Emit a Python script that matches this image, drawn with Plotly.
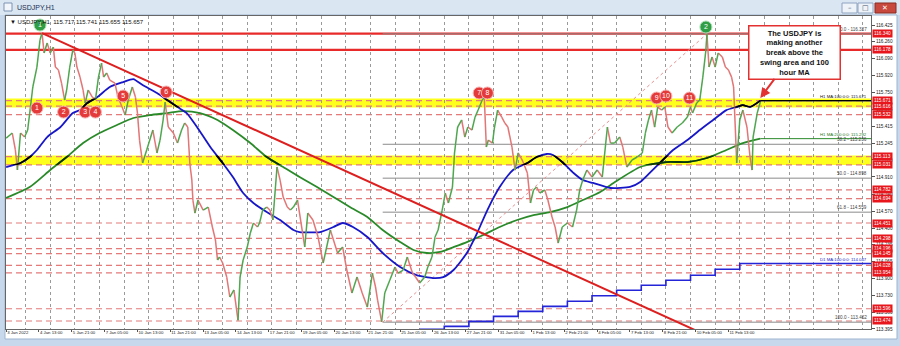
import plotly.graph_objects as go

# ---------------- data (x = hourly bar index from 3 Jan 2022 00:00, trading hours only) ----------------
price_bar = [5, 11, 14, 16, 19, 23, 26, 28, 31, 35,
             38, 40, 42, 45, 48, 51, 53, 56, 59, 62,
             64, 67, 70, 72, 74, 77, 80, 82, 85, 89,
             92, 95, 98, 100, 103, 106, 111, 114, 118, 121,
             124, 128, 131, 133, 135, 138, 142, 148, 152, 155,
             158, 160, 163, 168, 172, 176, 179, 182, 184, 186,
             187, 189, 192, 197, 202, 206, 209, 211, 213, 216,
             220, 223, 227, 231, 233, 236, 240, 243, 246, 250,
             252, 255, 259, 262, 265, 269, 272, 275, 279, 282,
             285, 289, 296, 299, 304, 309, 314, 321, 324, 328,
             333, 337, 342, 347, 352, 357, 362, 365, 367, 371,
             374, 379, 384, 387, 392, 396, 401, 404, 408, 413,
             416, 420, 423, 426, 430, 433, 436, 440, 442, 445,
             449, 452, 455, 459, 462, 465, 469, 471, 473, 475,
             479, 481, 484, 488, 491, 494, 498, 501, 504, 508,
             513, 516, 519, 522, 525, 530, 533, 537, 540, 543,
             547, 552, 557, 561, 564, 567, 571, 576, 581, 586,
             591, 594, 598, 603, 606, 610, 615, 620, 625, 628,
             631, 634, 637, 640, 644, 647, 650, 654, 659, 664,
             669, 672, 674, 678, 681, 684, 687, 688, 690, 693,
             696, 699, 703, 706, 709, 712, 714, 716, 717, 720,
             723, 727, 730, 732, 733, 737, 740]
price_close = [115.298, 115.348, 115.179, 114.979, 115.348, 115.308, 115.378, 115.547, 115.807, 116.006,
               116.275, 116.345, 116.146, 116.245, 116.146, 116.205, 116.006, 115.976, 115.846, 115.677,
               115.777, 116.006, 116.176, 116.146, 116.006, 115.906, 115.777, 115.647, 115.777, 115.707,
               115.677, 115.906, 116.046, 115.906, 115.946, 115.876, 115.846, 115.707, 115.607, 115.527,
               115.677, 115.807, 115.707, 115.547, 115.278, 115.049, 115.179, 115.378, 115.149, 115.278,
               115.478, 115.657, 115.408, 115.348, 115.248, 115.378, 115.448, 115.408, 115.049, 114.879,
               114.680, 114.550, 114.680, 114.580, 114.610, 114.411, 114.281, 114.082, 114.112, 114.052,
               113.912, 113.713, 113.783, 113.480, 113.912, 114.082, 114.211, 114.351, 114.451, 114.411,
               114.451, 114.580, 114.610, 114.580, 114.481, 115.009, 114.879, 114.710, 114.610, 114.580,
               114.610, 114.680, 114.212, 114.550, 114.481, 114.311, 114.052, 114.381, 114.281, 114.152,
               114.211, 113.982, 113.753, 113.912, 113.753, 113.613, 113.952, 113.813, 113.683, 113.465,
               113.753, 113.882, 114.012, 113.952, 113.982, 114.112, 113.952, 113.912, 113.853, 113.912,
               114.012, 114.112, 114.311, 114.381, 114.580, 114.750, 114.650, 114.810, 115.149, 115.408,
               115.478, 115.308, 115.408, 115.378, 115.507, 115.577, 115.677, 115.707, 115.208, 115.278,
               115.248, 115.408, 115.577, 115.507, 115.448, 115.408, 115.208, 114.979, 115.149, 115.079,
               114.949, 114.650, 114.780, 114.810, 114.750, 114.780, 114.680, 114.511, 114.411, 114.251,
               114.411, 114.451, 114.411, 114.580, 114.780, 114.879, 114.979, 114.909, 114.979, 114.909,
               115.408, 115.248, 115.248, 115.308, 115.208, 115.009, 115.079, 115.109, 115.149, 115.348,
               115.478, 115.577, 115.408, 115.607, 115.577, 115.607, 115.408, 115.348, 115.408, 115.448,
               115.507, 115.607, 115.547, 115.647, 115.677, 115.906, 116.176, 116.337, 116.006, 116.106,
               116.006, 116.146, 116.106, 116.006, 115.976, 115.906, 115.807, 115.308, 115.049, 115.478,
               115.577, 115.408, 115.109, 114.979, 115.308, 115.547, 115.657]

ma100_bar = [5, 19, 28, 35, 45, 58, 70, 77, 84, 94,
             106, 119, 129, 138, 152, 162, 172, 181, 191, 204,
             216, 226, 236, 246, 259, 272, 285, 291, 311, 324,
             333, 343, 357, 372, 389, 405, 421, 431, 441, 454,
             464, 474, 486, 499, 513, 522, 532, 538, 548, 558,
             567, 577, 594, 613, 623, 635, 645, 655, 669, 681,
             694, 707, 717, 723, 730, 740]
ma100_val = [115.009, 115.049, 115.109, 115.179, 115.308, 115.408, 115.547, 115.577, 115.647, 115.707,
             115.807, 115.856, 115.886, 115.826, 115.747, 115.677, 115.607, 115.547, 115.408, 115.208,
             115.049, 114.909, 114.750, 114.650, 114.560, 114.481, 114.381, 114.361, 114.361, 114.411,
             114.451, 114.411, 114.311, 114.152, 114.012, 113.932, 113.902, 113.912, 113.982, 114.152,
             114.351, 114.580, 114.809, 114.979, 115.049, 115.109, 115.139, 115.129, 115.049, 114.949,
             114.879, 114.850, 114.800, 114.810, 114.860, 114.979, 115.079, 115.179, 115.278, 115.378,
             115.478, 115.577, 115.607, 115.627, 115.607, 115.671]

ma200_bar = [5, 28, 48, 64, 80, 96, 113, 129, 145, 162,
             177, 194, 211, 226, 243, 259, 275, 291, 308, 324,
             340, 357, 372, 389, 402, 415, 428, 441, 454, 470,
             486, 503, 519, 535, 552, 567, 584, 597, 623, 649,
             669, 688, 707, 723, 740]
ma200_val = [114.700, 114.809, 114.979, 115.109, 115.248, 115.348, 115.428, 115.498, 115.527, 115.547,
             115.567, 115.547, 115.478, 115.378, 115.248, 115.109, 115.009, 114.909, 114.809, 114.710,
             114.610, 114.511, 114.381, 114.261, 114.182, 114.152, 114.162, 114.211, 114.261, 114.331,
             114.411, 114.481, 114.530, 114.560, 114.610, 114.680, 114.760, 114.850, 115.009, 115.059,
             115.059, 115.099, 115.179, 115.248, 115.292]

d1ma_bar = [408, 432, 456, 480, 504, 528, 552, 576, 600, 624, 648, 672, 696, 720]
d1ma_val = [113.39, 113.42, 113.47, 113.52, 113.57, 113.62, 113.67, 113.725, 113.78, 113.83,
            113.88, 113.93, 113.99, 114.047]

last_bar = 740
ma100_last = 115.671
ma200_last = 115.292
d1ma_last = 114.047

solid_levels = [116.340, 116.178]
dashed_levels = [115.671, 115.616, 115.532, 115.113, 115.031, 114.782, 114.694, 114.451,
                 114.298, 114.196, 114.145, 114.028, 113.954, 113.596, 113.474]
tag_levels = [116.340, 116.178, 115.671, 115.616, 115.532, 115.113, 115.031, 114.782, 114.694,
              114.451, 114.298, 114.196, 114.145, 114.028, 113.954, 113.596, 113.474]

zone_low = [115.602, 115.029]
zone_high = [115.692, 115.124]

fib_pct = ["0.0", "38.2", "50.0", "61.8", "100.0"]
fib_price = [116.337, 115.236, 114.898, 114.559, 113.462]
fib_anchor_bar = [372, 688]
fib_anchor_price = [113.462, 116.337]

trend_bar = [40, 678]
trend_price = [116.345, 113.376]

touch_bar = [35, 61, 82, 92, 119, 161, 466, 474, 639, 648, 671]
touch_price = [115.597, 115.557, 115.557, 115.557, 115.717, 115.757, 115.747, 115.747, 115.697, 115.717, 115.697]
touch_label = ["1", "2", "3", "4", "5", "6", "7", "8", "9", "10", "11"]

peak_bar = [38, 687]
peak_price = [116.425, 116.405]
peak_label = ["1", "2"]

xtick_bar = [5, 37, 69, 101, 133, 165, 197, 229, 261, 293, 325, 357, 389, 421, 453, 485,
             517, 549, 581, 613, 645, 677, 709]
xtick_text = ["3 Jan 2022", "4 Jan 13:00", "5 Jan 21:00", "7 Jan 05:00", "10 Jan 13:00",
              "11 Jan 21:00", "13 Jan 05:00", "14 Jan 13:00", "17 Jan 21:00", "19 Jan 05:00",
              "20 Jan 13:00", "21 Jan 21:00", "25 Jan 05:00", "26 Jan 13:00", "27 Jan 21:00",
              "31 Jan 05:00", "1 Feb 13:00", "2 Feb 21:00", "4 Feb 05:00", "7 Feb 13:00",
              "8 Feb 21:00", "10 Feb 05:00", "11 Feb 13:00"]
day_start_bar = list(range(24, 841, 24))
ytick_vals = [116.425, 116.260, 116.090, 115.920, 115.750, 115.585, 115.415, 115.245, 115.080,
              114.910, 114.740, 114.570, 114.400, 114.235, 114.065, 113.900, 113.730, 113.560, 113.395]

header_text = "\u25bc USDJPY,H1  115.717 115.741 115.655 115.657"
callout_text = ("<b>The USDJPY is<br>making another<br>break above the<br>"
                "swing area and 100<br>hour MA</b>")
callout_tip = (740, 115.697)

# ---------------- layout geometry ----------------
W, H = 900, 346
ML, MR, MT, MB = 6, 29, 16, 17
PW, PH = W - ML - MR, H - MT - MB
X_MIN, X_MAX = 4.87, 847.9
Y_MIN, Y_MAX = 113.394, 116.515
FONT = "Liberation Sans"
SMALL = 4.3


def fx(px):
    return (px - ML) / PW


def fy(py):
    return (H - MB - py) / PH


def yfrac(v):
    return (v - Y_MIN) / (Y_MAX - Y_MIN)


RED_LINE = "#e82a2a"
DASH_RED = "#e47a7a"
BLUE = "#1717c8"
GREEN = "#2a8a2a"

fig = go.Figure()

# D1 MA step line
fig.add_trace(go.Scatter(x=d1ma_bar + [last_bar, X_MAX], y=d1ma_val + [d1ma_last, d1ma_last],
                         mode="lines", line=dict(color="#2424d8", width=1.6, shape="hv"),
                         hoverinfo="skip"))

# fib diagonal
fig.add_trace(go.Scatter(x=fib_anchor_bar, y=fib_anchor_price, mode="lines",
                         line=dict(color="#e89090", width=1, dash="dot"), hoverinfo="skip"))

# moving averages
fig.add_trace(go.Scatter(x=ma200_bar, y=ma200_val, mode="lines",
                         line=dict(color=GREEN, width=1.8, shape="spline", smoothing=0.6), hoverinfo="skip"))
fig.add_trace(go.Scatter(x=ma100_bar, y=ma100_val, mode="lines",
                         line=dict(color=BLUE, width=1.8, shape="spline", smoothing=0.6), hoverinfo="skip"))
fig.add_trace(go.Scatter(x=[last_bar, X_MAX], y=[ma200_last, ma200_last], mode="lines",
                         line=dict(color=GREEN, width=1), hoverinfo="skip"))
fig.add_trace(go.Scatter(x=[last_bar, X_MAX], y=[ma100_last, ma100_last], mode="lines",
                         line=dict(color=BLUE, width=1.2), hoverinfo="skip"))

# price path, coloured by direction
up_x, up_y, dn_x, dn_y = [], [], [], []
for i in range(1, len(price_bar)):
    sx = [price_bar[i - 1], price_bar[i], None]
    sy = [price_close[i - 1], price_close[i], None]
    if price_close[i] >= price_close[i - 1]:
        up_x += sx
        up_y += sy
    else:
        dn_x += sx
        dn_y += sy
fig.add_trace(go.Scatter(x=dn_x, y=dn_y, mode="lines", line=dict(color="#e27676", width=1.5),
                         hoverinfo="skip"))
fig.add_trace(go.Scatter(x=up_x, y=up_y, mode="lines", line=dict(color="#4fa64f", width=1.5),
                         hoverinfo="skip"))

# trend line
fig.add_trace(go.Scatter(x=trend_bar, y=trend_price, mode="lines",
                         line=dict(color="#dd1f1f", width=2), hoverinfo="skip"))

# darkened MA segments inside the yellow zones (zone sub-plots clip them)
for k, yname in enumerate(["y3", "y4"]):
    fig.add_trace(go.Scatter(x=ma100_bar, y=ma100_val, xaxis="x2", yaxis=yname, mode="lines",
                             line=dict(color="#000000", width=1.8, shape="spline", smoothing=0.6),
                             hoverinfo="skip"))
    fig.add_trace(go.Scatter(x=ma200_bar, y=ma200_val, xaxis="x2", yaxis=yname, mode="lines",
                             line=dict(color="#0c360c", width=1.8, shape="spline", smoothing=0.6),
                             hoverinfo="skip"))
    fig.add_trace(go.Scatter(x=[last_bar, X_MAX], y=[ma100_last, ma100_last], xaxis="x2", yaxis=yname,
                             mode="lines", line=dict(color="#000000", width=1.2), hoverinfo="skip"))

# touch markers
fig.add_trace(go.Scatter(x=touch_bar, y=touch_price, mode="markers+text", text=touch_label,
                         textposition="middle center",
                         textfont=dict(color="white", size=7, family=FONT),
                         marker=dict(size=12, color="#e53a3a", line=dict(color="#f6b0b0", width=1)),
                         cliponaxis=False, hoverinfo="skip"))
fig.add_trace(go.Scatter(x=peak_bar, y=peak_price, mode="markers+text", text=peak_label,
                         textposition="middle center",
                         textfont=dict(color="white", size=7, family=FONT),
                         marker=dict(size=12, color="#2f9e44", line=dict(color="#a8dcb0", width=1)),
                         cliponaxis=False, hoverinfo="skip"))

shapes = []
# window frame
shapes.append(dict(type="rect", xref="paper", yref="paper", x0=fx(0), x1=fx(900), y0=fy(15), y1=fy(0),
                   fillcolor="#dbe6f3", line=dict(width=0), layer="below"))
shapes.append(dict(type="rect", xref="paper", yref="paper", x0=fx(5), x1=fx(897), y0=fy(339), y1=fy(15),
                   fillcolor="white", line=dict(color="#9fb4d0", width=1), layer="below"))
shapes.append(dict(type="rect", xref="paper", yref="paper", x0=fx(4), x1=fx(12), y0=fy(11), y1=fy(3),
                   fillcolor="#f2f6fb", line=dict(color="#7d93b3", width=1), layer="below"))
for bx0, bx1, fill, lc in [(842, 857, "#eef3f9", "#8ea3c0"), (858, 873, "#eef3f9", "#8ea3c0"),
                           (875, 896, "#c9483d", "#8b2a22")]:
    shapes.append(dict(type="rect", xref="paper", yref="paper", x0=fx(bx0), x1=fx(bx1), y0=fy(13),
                       y1=fy(3), fillcolor=fill, line=dict(color=lc, width=1), layer="below"))

# yellow swing zones
for lo, hi in zip(zone_low, zone_high):
    shapes.append(dict(type="rect", xref="paper", yref="y", x0=0, x1=1, y0=lo, y1=hi,
                       fillcolor="#ffff1e", line=dict(width=0), layer="below"))
# dashed support/resistance lines
for v in dashed_levels:
    shapes.append(dict(type="line", xref="paper", yref="y", x0=0, x1=1, y0=v, y1=v,
                       line=dict(color=DASH_RED, width=1.2, dash="6px,4px"), layer="below"))
# fib levels
for v in fib_price:
    shapes.append(dict(type="line", xref="x", yref="y", x0=fib_anchor_bar[0], x1=X_MAX, y0=v, y1=v,
                       line=dict(color="#8a8a8a", width=1), layer="below"))
# solid red levels
for v in solid_levels:
    shapes.append(dict(type="line", xref="paper", yref="y", x0=0, x1=1, y0=v, y1=v,
                       line=dict(color=RED_LINE, width=2.2), layer="below"))

annotations = []
# title bar texts
annotations.append(dict(xref="paper", yref="paper", x=fx(15), y=fy(7.5), text="USDJPY,H1",
                        showarrow=False, xanchor="left", yanchor="middle",
                        font=dict(size=7, color="#1a3050", family=FONT)))
for gx, glyph, col in [(849.5, "\u2013", "#44546c"), (865.5, "\u25a1", "#44546c"), (885.5, "\u2715", "white")]:
    annotations.append(dict(xref="paper", yref="paper", x=fx(gx), y=fy(8), text=glyph, showarrow=False,
                            xanchor="center", yanchor="middle", font=dict(size=7, color=col, family="DejaVu Sans")))
annotations.append(dict(xref="paper", yref="paper", x=fx(8), y=fy(22), text=header_text, showarrow=False,
                        xanchor="left", yanchor="middle", font=dict(size=6, color="#111", family=FONT)))

# level labels on the right side of the plot
for pct, v in zip(fib_pct, fib_price):
    annotations.append(dict(xref="paper", yref="y", x=fx(869), y=v, text=f"{pct} - {v:.3f}",
                            showarrow=False, xanchor="right", yanchor="bottom",
                            font=dict(size=SMALL + 0.3, color="#444", family=FONT)))
for txt, v, col in [(f"H1 MA:100:0:0: {ma100_last:.3f}", ma100_last, "#111"),
                    (f"H1 MA:200:0:0: {ma200_last:.3f}", ma200_last, "#1f7a1f"),
                    (f"D1 MA:100:0:0: {d1ma_last:.3f}", d1ma_last, "#2222cc")]:
    annotations.append(dict(xref="paper", yref="y", x=fx(869), y=v, text=txt, showarrow=False,
                            xanchor="right", yanchor="bottom",
                            font=dict(size=SMALL, color=col, family=FONT)))

# red price tags on the axis
for v in tag_levels:
    annotations.append(dict(xref="paper", yref="y", x=fx(872), y=v, text=f"{v:.3f}", showarrow=False,
                            xanchor="left", yanchor="middle", bgcolor="#e8161c", borderpad=1,
                            font=dict(size=SMALL + 0.4, color="white", family=FONT)))

# callout box with arrow
annotations.append(dict(xref="x", yref="y", x=callout_tip[0], y=callout_tip[1], text=callout_text,
                        showarrow=True, ax=34, ay=-46, arrowcolor="#e33030", arrowwidth=2,
                        arrowhead=2, arrowsize=1, bgcolor="white", bordercolor="#e33030",
                        borderwidth=1.5, borderpad=1, width=88, height=50, align="center",
                        valign="middle", font=dict(size=7.5, color="#111", family=FONT)))

fig.update_layout(
    template="none",
    width=W, height=H,
    margin=dict(l=ML, r=MR, t=MT, b=MB, pad=0),
    paper_bgcolor="#c8d8ec",
    plot_bgcolor="rgba(0,0,0,0)",
    showlegend=False,
    shapes=shapes,
    annotations=annotations,
    xaxis=dict(range=[X_MIN, X_MAX], tickmode="array", tickvals=xtick_bar, ticktext=xtick_text,
               ticklabelposition="outside right", ticklabelstandoff=-1, tickangle=0,
               ticks="outside", ticklen=2, tickcolor="#555",
               tickfont=dict(size=SMALL, color="#222", family=FONT), showgrid=False, zeroline=False,
               showline=True, linecolor="#666", linewidth=1, mirror=True, automargin=False,
               fixedrange=True,
               minor=dict(tickmode="array", tickvals=day_start_bar, showgrid=True, gridcolor="#9a9a9a",
                          griddash="dot", gridwidth=1, ticks="")),
    yaxis=dict(range=[Y_MIN, Y_MAX], side="right", tickmode="array", tickvals=ytick_vals,
               ticktext=[f"{v:.3f}" for v in ytick_vals], ticks="outside", ticklen=3, tickcolor="#555",
               tickfont=dict(size=SMALL + 0.4, color="#222", family=FONT), showgrid=False, zeroline=False,
               showline=True, linecolor="#666", linewidth=1, mirror=True, automargin=False,
               fixedrange=True),
    xaxis2=dict(range=[X_MIN, X_MAX], domain=[0, 1], anchor="y3", visible=False, showgrid=False,
                fixedrange=True),
    yaxis3=dict(range=[zone_low[0], zone_high[0]], domain=[yfrac(zone_low[0]), yfrac(zone_high[0])],
                anchor="x2", visible=False, showgrid=False, fixedrange=True),
    yaxis4=dict(range=[zone_low[1], zone_high[1]], domain=[yfrac(zone_low[1]), yfrac(zone_high[1])],
                anchor="x2", visible=False, showgrid=False, fixedrange=True),
)

assert len(price_bar) == len(price_close)
assert len(ma100_bar) == len(ma100_val)
assert len(ma200_bar) == len(ma200_val)

fig.write_html("out.html")
